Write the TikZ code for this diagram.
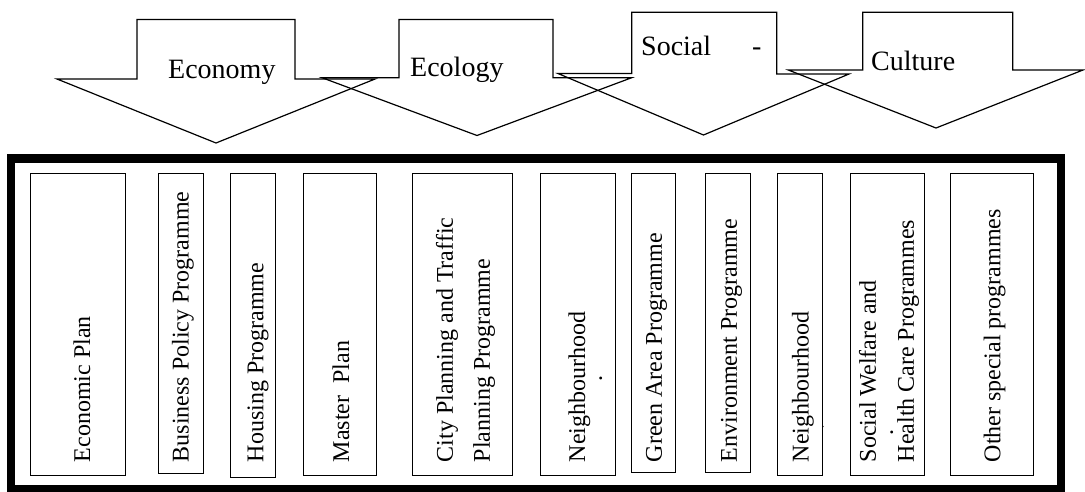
\documentclass[tikz,border=0pt]{standalone}
\usepackage{fontspec}
\setmainfont{Liberation Serif}
\begin{document}
\begin{tikzpicture}[x=1pt,y=-1pt,
  arrowshape/.style={draw=black, line width=1.2pt, line join=miter},
  frameline/.style={draw=black, line width=8.5pt},
  pbox/.style={draw=black, line width=1pt, anchor=north west, inner sep=0pt, outer sep=0pt},
  vlabel/.style={rotate=90, anchor=west, inner sep=0pt, font=\fontsize{24}{37}\selectfont, align=left},
  tlabel/.style={anchor=base west, inner sep=0pt, font=\fontsize{28}{32}\selectfont},
]
\useasboundingbox (0,0) rectangle (1085,491);

% top arrows
\draw[arrowshape] (57,79) -- (137,79) -- (137,19.5) -- (295,19.5) -- (295,79) -- (375,79) -- (216,143) -- cycle;
\draw[arrowshape] (322,77.7) -- (399,77.7) -- (399,19.5) -- (553,19.5) -- (553,77.7) -- (631.7,77.7) -- (477,135.5) -- cycle;
\draw[arrowshape] (558,73.5) -- (631.7,73.5) -- (631.7,12.3) -- (776.7,12.3) -- (776.7,74) -- (849,74) -- (703.5,135) -- cycle;
\draw[arrowshape] (788.3,70) -- (862.8,70) -- (862.8,12.3) -- (1012.7,12.3) -- (1012.7,70) -- (1083,70) -- (936,128) -- cycle;

\node[tlabel] (teco) at (168,78.3) {Economy};
\node[tlabel] (tecol) at (410,76) {Ecology};
\node[tlabel] (tsoc) at (641,55) {Social\hspace{41pt}-};
\node[tlabel] (tcul) at (871,70.5) {Culture};

% frame
\draw[frameline] (11,158.5) rectangle (1061,489);

% boxes
\node[pbox, minimum width=94.3pt, minimum height=301.7pt] (b1) at (30.9,173.3) {};
\node[pbox, minimum width=45pt, minimum height=300pt] (b2) at (158.3,173.3) {};
\node[pbox, minimum width=44.9pt, minimum height=304.4pt] (b3) at (230.8,173.3) {};
\node[pbox, minimum width=72.2pt, minimum height=301.7pt] (b4) at (303.8,173.3) {};
\node[pbox, minimum width=100pt, minimum height=301.7pt] (b5) at (412.9,173.3) {};
\node[pbox, minimum width=74.8pt, minimum height=301.7pt] (b6) at (540.2,173.3) {};
\node[pbox, minimum width=43.5pt, minimum height=299pt] (b7) at (631.6,173.3) {};
\node[pbox, minimum width=45pt, minimum height=299pt] (b8) at (705.2,173.3) {};
\node[pbox, minimum width=45.7pt, minimum height=301.7pt] (b9) at (777.1,173.3) {};
\node[pbox, minimum width=74.3pt, minimum height=301.7pt] (b10) at (850.4,173.3) {};
\node[pbox, minimum width=83.1pt, minimum height=301.7pt] (b11) at (950.6,173.3) {};

% labels
\node[vlabel] (l1) at (82,462.5) {Economic Plan};
\node[vlabel] (l2) at (183,462.5) {Business Policy Programme};
\node[vlabel] (l3) at (258,462.5) {Housing Programme};
\node[vlabel] (l4) at (341,462.5) {Master\ \ Plan};
\node[vlabel] (l5) at (465.5,462.5) {City Planning and Traffic\\Planning Programme};
\node[vlabel] (l6) at (579.5,462.5) {Neighbourhood};
\node[vlabel] (l7) at (656.5,462.5) {Green Area Programme};
\node[vlabel] (l8) at (731.5,462.5) {Environment Programme};
\node[vlabel] (l9) at (803,462.5) {Neighbourhood};
\node[vlabel, font=\fontsize{24}{38}\selectfont] (l10) at (889,462.5) {Social Welfare and\\Health Care Programmes};
\node[vlabel] (l11) at (994.6,462.5) {Other special programmes};

\node[rotate=90, inner sep=0pt, font=\fontsize{24}{28}\selectfont] (d6) at (600.8,378.3) {.};
\node[rotate=90, inner sep=0pt, font=\fontsize{12}{14}\selectfont] (d9) at (823,426.7) {.};
\node[rotate=90, inner sep=0pt, font=\fontsize{24}{28}\selectfont] (d10) at (891.8,432.7) {.};
\end{tikzpicture}
\end{document}
